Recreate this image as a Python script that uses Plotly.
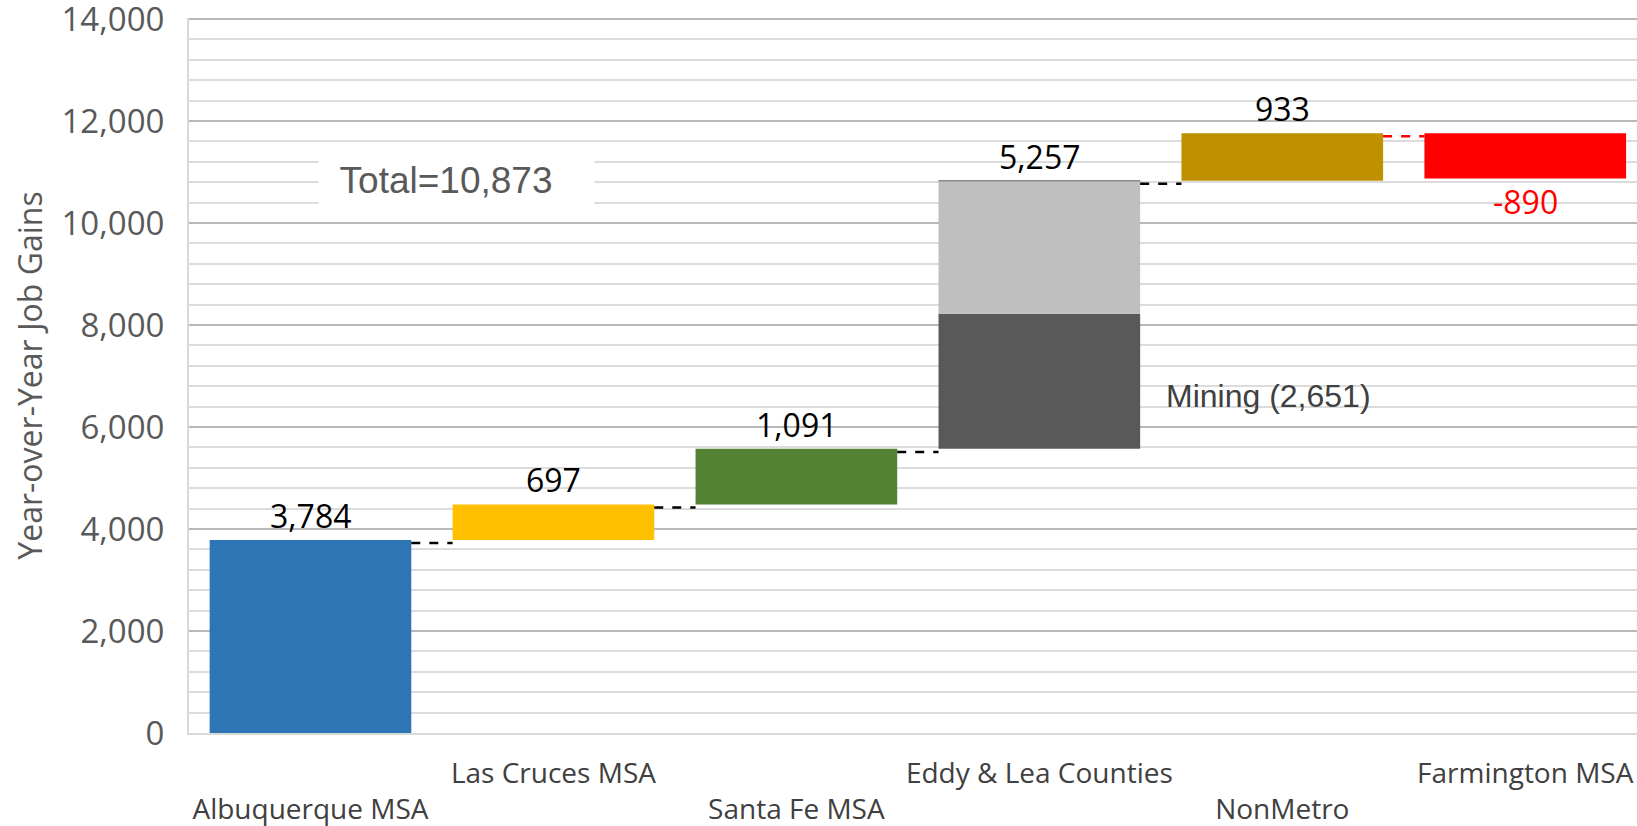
import numpy as np
import plotly.graph_objects as go

categories = ["Albuquerque MSA", "Las Cruces MSA", "Santa Fe MSA",
              "Eddy & Lea Counties", "NonMetro", "Farmington MSA"]
changes = [3784, 697, 1091, 5257, 933, -890]
mining = 2651
colors = ["#2E75B6", "#FFC000", "#548235", "#595959", "#BF9000", "#FF0000"]
eddy_rest_color = "#BFBFBF"
label_colors = ["black", "black", "black", "black", "black", "#FF0000"]
total_text = "Total=10,873"
mining_text = "Mining (2,651)"
y_ticks = [0, 2000, 4000, 6000, 8000, 10000, 12000, 14000]

changes_arr = np.array(changes)
ends = np.cumsum(changes_arr)
starts = ends - changes_arr
eddy_idx = categories.index("Eddy & Lea Counties")

bar_w = 0.83
half = bar_w / 2

main_y = changes_arr.astype(float).copy()
main_y[eddy_idx] = mining

fig = go.Figure()
fig.add_trace(go.Bar(
    x=categories, y=main_y, base=starts,
    marker=dict(color=colors, line=dict(width=0)),
    width=bar_w, hoverinfo="skip", showlegend=False,
))
fig.add_trace(go.Bar(
    x=[categories[eddy_idx]], y=[changes[eddy_idx] - mining],
    base=[starts[eddy_idx] + mining],
    marker=dict(color=eddy_rest_color, line=dict(width=0)),
    width=bar_w, hoverinfo="skip", showlegend=False,
))

shapes = []
for i in range(len(categories) - 1):
    col = "#FF0000" if changes[i + 1] < 0 else "black"
    shapes.append(dict(type="line", xref="x", yref="y",
                       x0=i + half, x1=i + 1 - half, y0=ends[i] - 60, y1=ends[i] - 60,
                       line=dict(color=col, width=2.5, dash="dash")))
shapes.append(dict(type="line", xref="x", yref="y",
                   x0=eddy_idx - half, x1=eddy_idx + half,
                   y0=ends[eddy_idx], y1=ends[eddy_idx],
                   line=dict(color="#8c8c8c", width=1.5)))

annotations = []
for i, v in enumerate(changes):
    top = max(starts[i], ends[i])
    bot = min(starts[i], ends[i])
    if v >= 0:
        annotations.append(dict(x=i, y=top, xref="x", yref="y", text=f"{v:,}",
                                showarrow=False, yanchor="bottom", yshift=1,
                                font=dict(family="Open Sans", size=32, color=label_colors[i])))
    else:
        annotations.append(dict(x=i, y=bot, xref="x", yref="y", text=f"{v:,}",
                                showarrow=False, yanchor="top", yshift=1,
                                font=dict(family="Open Sans", size=32, color=label_colors[i])))

annotations.append(dict(x=0.599, y=10840, xref="x", yref="y",
                        text="&nbsp;&nbsp;" + total_text, align="left",
                        showarrow=False, bgcolor="white", width=275, height=58, borderpad=0,
                        font=dict(family="Liberation Sans", size=37, color="#595959")))
annotations.append(dict(x=eddy_idx + half, y=6600, xref="x", yref="y", text=mining_text,
                        showarrow=False, xanchor="left", xshift=24,
                        font=dict(family="Liberation Sans", size=32, color="#404040")))

ticktext = [c if i % 2 == 1 else "<br>" + c for i, c in enumerate(categories)]

fig.update_layout(
    width=1637, height=826,
    margin=dict(l=189, r=0, t=18, b=93),
    paper_bgcolor="white", plot_bgcolor="white",
    barmode="overlay",
    shapes=shapes, annotations=annotations,
    xaxis=dict(
        type="category", range=[-0.5, 5.46], automargin=False,
        tickmode="array", tickvals=categories, ticktext=ticktext,
        tickfont=dict(family="Open Sans", size=28, color="#404040"),
        showgrid=False, showline=True, linecolor="#d9d9d9", linewidth=2,
        ticks="", ticklabelstandoff=14, ticklabeloverflow="allow",
    ),
    yaxis=dict(
        range=[0, 14020], tickvals=y_ticks, tickformat=",", automargin=False,
        tickfont=dict(family="Open Sans", size=33, color="#595959"),
        showgrid=True, gridcolor="#b8b8b8", gridwidth=2,
        minor=dict(tickvals=list(range(400, 14000, 400)), showgrid=True,
                   gridcolor="#dcdcdc", gridwidth=1.5),
        showline=True, linecolor="#d9d9d9", linewidth=2,
        zeroline=False, ticks="", ticklabelstandoff=16, ticklabeloverflow="allow",
        title=dict(text="Year-over-Year Job Gains", standoff=9,
                   font=dict(family="Open Sans", size=32, color="#595959")),
    ),
)

fig.write_html("out.html", config={"displayModeBar": False},
               post_script="document.body.style.margin='0px';")
